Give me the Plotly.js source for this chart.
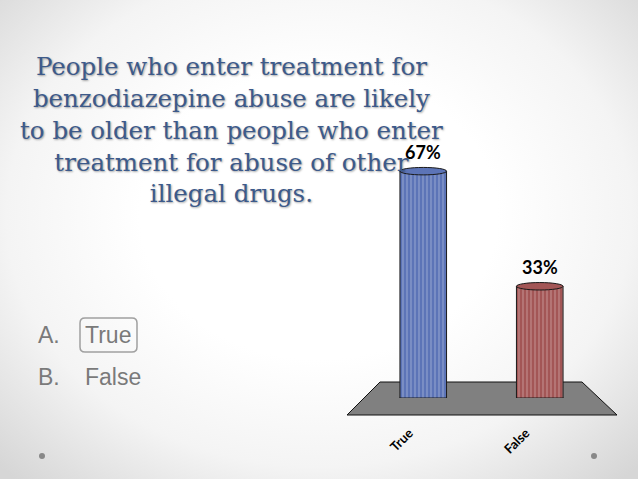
<!DOCTYPE html>
<html>
<head>
<meta charset="utf-8">
<script src="https://cdn.plot.ly/plotly-3.0.1.min.js"></script>
<style>
  html, body { margin: 0; padding: 0; width: 638px; height: 479px; overflow: hidden; }
  body { background: radial-gradient(ellipse 70% 75% at 50% 45%, #ffffff 40%, #f4f4f4 70%, #d6d6d6 100%); }
  #chart { width: 638px; height: 479px; }
</style>
</head>
<body>
<div id="chart"></div>
<script>
// ---- data ----
var categories = ['True', 'False'];
var values = [67, 33];
var valueLabels = ['67%', '33%'];
var barColors = ['#5c74b7', '#a35656'];
var stripeColors = ['#3f5593', '#7e3b3b'];
var questionText = 'People who enter treatment for<br>benzodiazepine abuse are likely<br>to be older than people who enter<br>treatment for abuse of other<br>illegal drugs.';
var optionLetters = ['A.', 'B.'];
var optionTexts = ['True', 'False'];

// helper: page pixel -> paper fraction
var W = 638, H = 479;
function px(x) { return x / W; }
function py(y) { return 1 - y / H; }

var trace = {
  type: 'bar',
  x: categories,
  y: values,
  marker: {
    color: barColors,
    line: { color: '#1a1a1a', width: 1 },
    pattern: { shape: '|', fillmode: 'overlay', fgcolor: stripeColors, fgopacity: 0.3, size: 4, solidity: 0.3 }
  },
  hoverinfo: 'skip'
};

var shapes = [];
// floor (decorative)
shapes.push({
  type: 'path', xref: 'paper', yref: 'paper', layer: 'below',
  path: 'M ' + px(380) + ' ' + py(382) + ' L ' + px(582) + ' ' + py(382) +
        ' L ' + px(617) + ' ' + py(415) + ' L ' + px(347) + ' ' + py(415) + ' Z',
  fillcolor: '#808080', line: { color: '#111', width: 1 }
});
// cylinder bottom and top caps from data
categories.forEach(function (c, i) {
  shapes.push({
    type: 'circle', xref: 'x', yref: 'y', layer: 'below',
    x0: i - 0.2, x1: i + 0.2, y0: -1.3, y1: 1.3,
    fillcolor: stripeColors[i], line: { color: '#1a1a1a', width: 1 }
  });
  shapes.push({
    type: 'circle', xref: 'x', yref: 'y', layer: 'above',
    x0: i - 0.2, x1: i + 0.2, y0: values[i] - 1.1, y1: values[i] + 1.1,
    fillcolor: barColors[i], line: { color: '#1a1a1a', width: 1 }
  });
});
// box around the correct answer
var bx0 = px(80), bx1 = px(137), by0 = py(318), by1 = py(352);
var rx = px(5), ry = 5 / H;
shapes.push({
  type: 'path', xref: 'paper', yref: 'paper', layer: 'above',
  path: 'M ' + (bx0 + rx) + ' ' + by0 + ' L ' + (bx1 - rx) + ' ' + by0 +
        ' Q ' + bx1 + ' ' + by0 + ' ' + bx1 + ' ' + (by0 - ry) +
        ' L ' + bx1 + ' ' + (by1 + ry) + ' Q ' + bx1 + ' ' + by1 + ' ' + (bx1 - rx) + ' ' + by1 +
        ' L ' + (bx0 + rx) + ' ' + by1 + ' Q ' + bx0 + ' ' + by1 + ' ' + bx0 + ' ' + (by1 + ry) +
        ' L ' + bx0 + ' ' + (by0 - ry) + ' Q ' + bx0 + ' ' + by0 + ' ' + (bx0 + rx) + ' ' + by0 + ' Z',
  line: { color: '#a0a0a0', width: 1.5 }
});
// slide bullets
[42, 594].forEach(function (cx) {
  shapes.push({
    type: 'circle', xref: 'paper', yref: 'paper', layer: 'above',
    x0: px(cx - 3), x1: px(cx + 3), y0: py(459), y1: py(453),
    fillcolor: '#888', line: { width: 0 }
  });
});

var annotations = [];
categories.forEach(function (c, i) {
  annotations.push({
    x: c, y: values[i], xref: 'x', yref: 'y', text: valueLabels[i],
    showarrow: false, yanchor: 'bottom', yshift: 6,
    font: { family: 'Lato, "Liberation Sans", sans-serif', size: 18, color: '#000', weight: 'bold' }
  });
});
annotations.push({
  x: px(231), y: py(130), xref: 'paper', yref: 'paper', xanchor: 'center', yanchor: 'middle',
  text: questionText, showarrow: false, align: 'center',
  font: { family: '"DejaVu Serif", serif', size: 24.5, color: '#3d5a8a', shadow: '1px 1px 2px rgba(0,0,0,0.35)' }
});
var optY = [335, 377];
var optX = [83, 83];
optionLetters.forEach(function (l, i) {
  annotations.push({
    x: px(36), y: py(optY[i]), xref: 'paper', yref: 'paper', xanchor: 'left', yanchor: 'middle',
    text: l, showarrow: false,
    font: { family: '"Liberation Sans", Arial, sans-serif', size: 23, color: '#7a7a7a' }
  });
  annotations.push({
    x: px(optX[i]), y: py(optY[i]), xref: 'paper', yref: 'paper', xanchor: 'left', yanchor: 'middle',
    text: optionTexts[i], showarrow: false,
    font: { family: '"Liberation Sans", Arial, sans-serif', size: 23, color: '#7a7a7a' }
  });
});

var layout = {
  width: W, height: H,
  margin: { l: 0, r: 0, t: 0, b: 0 },
  paper_bgcolor: 'rgba(0,0,0,0)',
  plot_bgcolor: 'rgba(0,0,0,0)',
  showlegend: false,
  bargap: 0.6,
  xaxis: {
    domain: [365 / W, 598 / W],
    range: [-0.5, 1.5],
    type: 'category',
    showgrid: false, zeroline: false, showline: false,
    tickangle: -45,
    ticks: '',
    ticklabelstandoff: 24,
    ticklabelshift: -14,
    tickfont: { family: 'Lato, "Liberation Sans", sans-serif', size: 13, color: '#000', weight: 'bold' }
  },
  yaxis: {
    domain: [1 - 398 / H, 1 - 161 / H],
    range: [0, 70],
    showgrid: false, zeroline: false, showline: false, showticklabels: false, ticks: ''
  },
  shapes: shapes,
  annotations: annotations
};

Plotly.newPlot('chart', [trace], layout, { displayModeBar: false, staticPlot: true });
</script>
</body>
</html>
